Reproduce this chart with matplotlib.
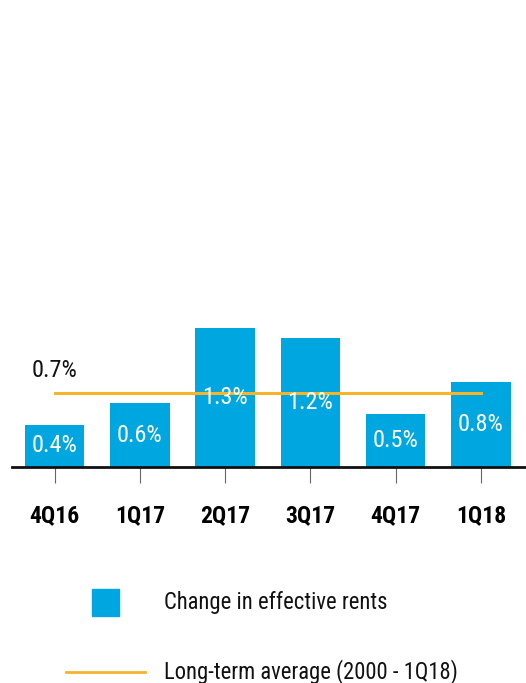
import matplotlib.pyplot as plt
from matplotlib import font_manager
from matplotlib.patches import Rectangle
from matplotlib.lines import Line2D

# Datos
trimestres = ['4Q16', '1Q17', '2Q17', '3Q17', '4Q17', '1Q18']
cambio_rentas = [0.40, 0.60, 1.31, 1.22, 0.50, 0.80]
promedio_largo = 0.7

azul = '#00A6E0'
naranja = '#F5B42A'

# Buscar una fuente estrecha instalada
nombres = {f.name for f in font_manager.fontManager.ttflist}
estrecha = 'Roboto'
for cand in ['Liberation Sans Narrow', 'DejaVu Sans Condensed',
             'Roboto Condensed', 'Open Sans Condensed']:
    if cand in nombres:
        estrecha = cand
        break
plt.rcParams['font.family'] = [estrecha, 'DejaVu Sans']

fig = plt.figure(figsize=(5.26, 6.83), dpi=100)
ax = fig.add_axes([0.0228, 0.3163, 0.9772, 0.6837])

x = list(range(len(trimestres)))
ax.bar(x, cambio_rentas, width=0.70, color=azul, zorder=2)

# Etiquetas dentro de las barras (a media altura)
for xi, v in zip(x, cambio_rentas):
    ax.text(xi, v / 2, f'{v:.1f}%', ha='center', va='center',
            color='white', fontsize=17.5, zorder=4)

# Promedio de largo plazo
ax.plot([x[0], x[-1]], [promedio_largo, promedio_largo], color=naranja,
        lw=2.2, zorder=3)
ax.text(x[0] - 0.27, promedio_largo + 0.10, f'{promedio_largo:.1f}%',
        ha='left', va='bottom', fontsize=17.5, color='#111111')

ax.set_xlim(-0.5, 5.53)
ax.set_ylim(0, 4.406)
ax.set_xticks(x)
ax.set_xticklabels(trimestres, fontsize=17, fontweight='bold')
ax.tick_params(axis='x', length=11.5, width=0.8, color='#666666', pad=15)
ax.set_yticks([])
for lado in ['top', 'right', 'left']:
    ax.spines[lado].set_visible(False)
ax.spines['bottom'].set_linewidth(2)
ax.spines['bottom'].set_color('#111111')

# Leyenda manual
fig.add_artist(Rectangle((92 / 526, 1 - 616 / 683), 27 / 526, 27 / 683,
                         transform=fig.transFigure, color=azul))
fig.text(164 / 526, 1 - 603 / 683, 'Change in effective rents',
         fontsize=16.3, va='center', ha='left', color='#111111')
fig.add_artist(Line2D([66 / 526, 145 / 526], [1 - 672 / 683, 1 - 672 / 683],
                      transform=fig.transFigure, color=naranja, lw=2))
fig.text(164 / 526, 1 - 672 / 683, 'Long-term average (2000 - 1Q18)',
         fontsize=16.3, va='center', ha='left', color='#111111')

fig.savefig('out.png', dpi=100)
